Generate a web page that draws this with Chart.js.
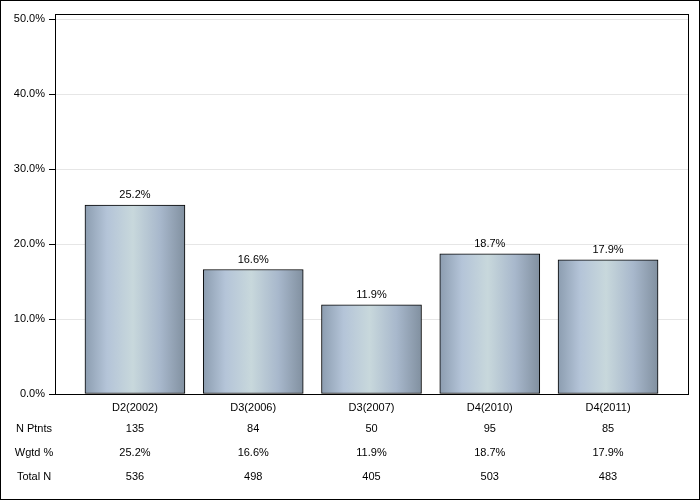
<!DOCTYPE html>
<html>
<head>
<meta charset="utf-8">
<script src="https://cdn.jsdelivr.net/npm/chart.js@4/dist/chart.umd.min.js"></script>
<style>
  html, body { margin: 0; padding: 0; background: #fff; }
  #wrap { width: 700px; height: 500px; }
</style>
</head>
<body>
<div id="wrap"><canvas id="dopsChart" width="700" height="500"></canvas></div>
<script>
var categories = ['D2(2002)', 'D3(2006)', 'D3(2007)', 'D4(2010)', 'D4(2011)'];
var wgtdPct = [25.2, 16.6, 11.9, 18.7, 17.9];
var nPtnts = [135, 84, 50, 95, 85];
var totalN = [536, 498, 405, 503, 483];
var yTicks = [0, 10, 20, 30, 40, 50];
var rowLabels = ['N Ptnts', 'Wgtd %', 'Total N'];

var FONT = '11px "Liberation Sans", Arial, sans-serif';
var BAR_W = 100;

function barGradient(ctx, left, right) {
    var g = ctx.createLinearGradient(left, 0, right, 0);
    g.addColorStop(0, '#8c9db0');
    g.addColorStop(0.22, '#b4c4d8');
    g.addColorStop(0.48, '#c8d8dc');
    g.addColorStop(0.75, '#a8b8cc');
    g.addColorStop(1, '#8190a0');
    return g;
}

var extras = {
    id: 'extras',
    afterDatasetsDraw: function (chart) {
        var ctx = chart.ctx;
        var area = chart.chartArea;
        var xs = chart.scales.x;
        var ys = chart.scales.y;
        ctx.save();
        ctx.font = FONT;
        ctx.fillStyle = '#000';
        ctx.textAlign = 'center';
        ctx.textBaseline = 'alphabetic';
        // value labels above bars
        wgtdPct.forEach(function (v, i) {
            ctx.fillText(v.toFixed(1) + '%', xs.getPixelForValue(i), ys.getPixelForValue(v) - 7);
        });
        // category labels and table
        ctx.textBaseline = 'middle';
        categories.forEach(function (c, i) {
            var x = xs.getPixelForValue(i);
            ctx.fillText(c, x, area.bottom + 14);
            ctx.fillText(String(nPtnts[i]), x, area.bottom + 35);
            ctx.fillText(wgtdPct[i].toFixed(1) + '%', x, area.bottom + 59);
            ctx.fillText(String(totalN[i]), x, area.bottom + 83);
        });
        rowLabels.forEach(function (r, k) {
            ctx.fillText(r, 34, area.bottom + 35 + k * 24);
        });
        // plot frame
        ctx.strokeStyle = '#000';
        ctx.lineWidth = 1;
        ctx.strokeRect(Math.round(area.left) + 0.5, Math.round(area.top) + 0.5,
            Math.round(area.right - area.left), Math.round(area.bottom - area.top));
        // outer border
        ctx.strokeRect(0.5, 0.5, chart.width - 1, chart.height - 1);
        ctx.restore();
    }
};

var ctx = document.getElementById('dopsChart').getContext('2d');
var dopsChart = new Chart(ctx, {
    type: 'bar',
    data: {
        datasets: [{
            data: wgtdPct.map(function (v, i) { return { x: i, y: v }; }),
            backgroundColor: function (c) {
                var xs = c.chart.scales.x;
                if (!c.chart.chartArea || !xs || c.dataIndex === undefined) return '#b4c4d8';
                var cx = xs.getPixelForValue(c.dataIndex);
                return barGradient(c.chart.ctx, cx - BAR_W / 2, cx + BAR_W / 2);
            },
            borderColor: '#000',
            borderWidth: 1,
            borderSkipped: false,
            barThickness: BAR_W
        }]
    },
    plugins: [extras],
    options: {
        responsive: false,
        animation: false,
        layout: { padding: { left: 0, top: 14, right: 12, bottom: 106 } },
        plugins: { legend: { display: false }, tooltip: { enabled: false } },
        scales: {
            x: {
                type: 'linear',
                display: false,
                offset: false,
                min: -0.676,
                max: 4.676
            },
            y: {
                min: 0,
                max: 50.67,
                afterBuildTicks: function (axis) {
                    axis.ticks = yTicks.map(function (v) { return { value: v }; });
                },
                afterFit: function (axis) { axis.width = 55; },
                border: { color: '#000' },
                grid: { color: '#e6e6e6', tickColor: '#000', tickLength: 6 },
                ticks: {
                    color: '#000',
                    padding: 4,
                    font: { family: '"Liberation Sans", Arial, sans-serif', size: 11 },
                    callback: function (v) { return v.toFixed(1) + '%'; }
                }
            }
        }
    }
});
</script>
</body>
</html>
